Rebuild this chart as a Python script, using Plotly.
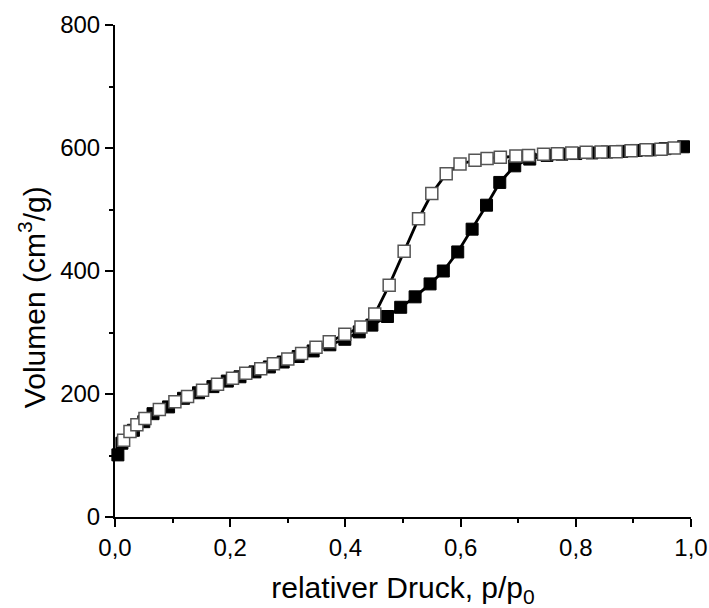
import plotly.graph_objects as go

# Adsorption branch (filled squares)
ads_p = [0.005, 0.012, 0.032, 0.05, 0.066, 0.093, 0.119, 0.145, 0.17, 0.195, 0.217, 0.243,
         0.268, 0.292, 0.318, 0.344, 0.373, 0.399, 0.424, 0.446, 0.473, 0.496, 0.521, 0.547,
         0.570, 0.595, 0.620, 0.645, 0.668, 0.694, 0.720, 0.750, 0.776, 0.800, 0.828, 0.854,
         0.880, 0.905, 0.930, 0.955, 0.987]
ads_v = [101, 120, 141, 155, 168, 179, 193, 202, 212, 221, 228, 236,
         244, 252, 261, 270, 280, 289, 301, 312, 326, 341, 358, 379,
         400, 431, 468, 507, 544, 571, 582, 588, 590, 591, 592, 593.5,
         594.5, 596, 597, 599, 602]

# Desorption branch (open squares)
des_p = [0.015, 0.026, 0.038, 0.052, 0.077, 0.104, 0.126, 0.152, 0.178, 0.204, 0.227, 0.253,
         0.275, 0.300, 0.324, 0.349, 0.372, 0.399, 0.427, 0.451, 0.476, 0.502, 0.527, 0.550,
         0.575, 0.599, 0.625, 0.646, 0.669, 0.696, 0.718, 0.744, 0.768, 0.793, 0.818, 0.844,
         0.870, 0.896, 0.922, 0.948, 0.971]
des_v = [125, 139, 150, 160, 175, 187.5, 196, 206, 216, 225.5, 233.6, 241,
         249, 257, 266, 276, 285, 297, 309, 330, 377, 432, 485, 526,
         558, 574, 580, 583, 585, 587, 588, 590, 590.6, 592, 593, 593.5,
         594, 595.6, 597, 598, 600]

x_ticks = [0.0, 0.2, 0.4, 0.6, 0.8, 1.0]
y_ticks = [0, 200, 400, 600, 800]

FONT = "Arial, Liberation Sans, sans-serif"

fig = go.Figure()
fig.add_trace(go.Scatter(
    x=ads_p, y=ads_v, mode="lines+markers",
    line=dict(color="black", width=2.8),
    marker=dict(symbol="square", size=12, color="black", line=dict(color="black", width=1)),
    showlegend=False, cliponaxis=False,
))
fig.add_trace(go.Scatter(
    x=des_p, y=des_v, mode="lines+markers",
    line=dict(color="black", width=2.8),
    marker=dict(symbol="square", size=12, color="white", line=dict(color="#555555", width=1.5)),
    showlegend=False, cliponaxis=False,
))

axis_common = dict(
    showline=True, linecolor="black", linewidth=2,
    ticks="outside", ticklen=8, tickwidth=2, tickcolor="black",
    showgrid=False, zeroline=False, mirror=False, automargin=False,
    tickfont=dict(family=FONT, size=24, color="black"),
)

fig.update_xaxes(
    range=[0, 1], tickvals=x_ticks, tickformat=".1f",
    minor=dict(ticks="outside", ticklen=4, tickwidth=2, tickcolor="black", dtick=0.1, showgrid=False),
    title=dict(text="relativer Druck, p/p<sub>0</sub>", font=dict(family=FONT, size=30, color="black"), standoff=20),
    **axis_common,
)
fig.update_yaxes(
    range=[0, 800], tickvals=y_ticks,
    minor=dict(ticks="outside", ticklen=4, tickwidth=2, tickcolor="black", dtick=100, showgrid=False),
    **axis_common,
)

# y-axis title sits slightly below the axis centre in the reference
fig.add_annotation(
    text="Volumen (cm<sup>3</sup>/g)", textangle=-90,
    xref="paper", yref="paper", x=-0.144, y=0.447,
    xanchor="center", yanchor="middle", showarrow=False,
    font=dict(family=FONT, size=30, color="black"),
)

fig.update_layout(
    width=709, height=608,
    margin=dict(l=115, r=18, t=25, b=91),
    plot_bgcolor="white", paper_bgcolor="white",
    separators=", ",
    font=dict(family=FONT, color="black"),
)

fig.write_html(
    "out.html",
    config={"displayModeBar": False},
    post_script="document.body.style.margin='0';document.body.style.overflow='hidden';",
)
